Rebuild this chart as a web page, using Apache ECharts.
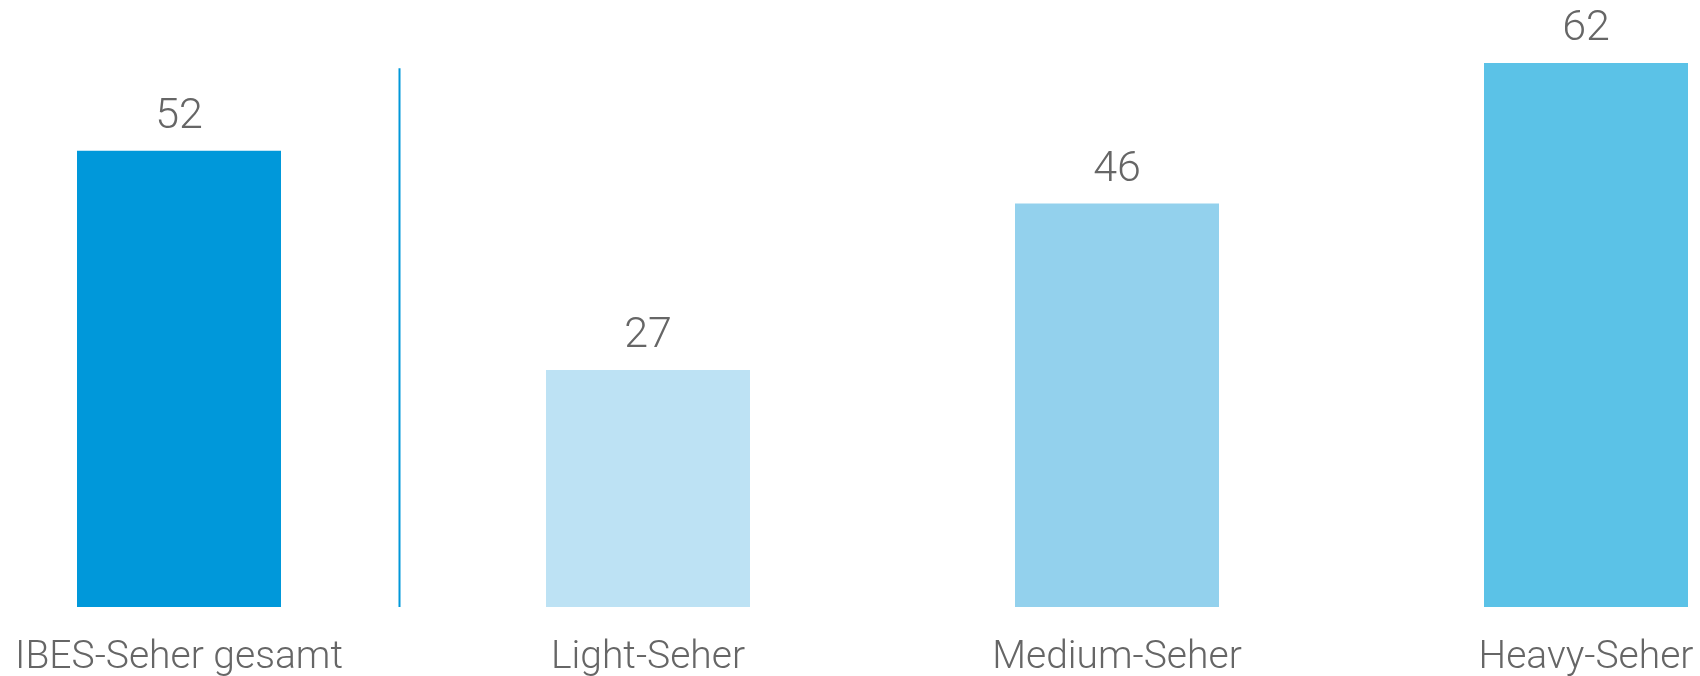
<!DOCTYPE html>
<html>
<head>
<meta charset="utf-8">
<script src="https://cdn.jsdelivr.net/npm/echarts@6/dist/echarts.min.js"></script>
<style>html,body{margin:0;padding:0;background:#fff}#c{width:1700px;height:676px}</style>
</head>
<body>
<div id="c"></div>
<script>
const categories = ['IBES-Seher gesamt', 'Light-Seher', 'Medium-Seher', 'Heavy-Seher'];
const values = [52, 27, 46, 62];
const colors = ['#0098da', '#bde2f4', '#93d1ed', '#5bc2e7'];

const chart = echarts.init(document.getElementById('c'));
const FONT = 'Roboto';
chart.setOption({
  animation: false,
  grid: { left: 179, top: 63, width: 1407, height: 544, containLabel: false, outerBoundsMode: 'none' },
  xAxis: {
    type: 'category', data: categories, boundaryGap: false,
    axisLine: { show: false }, axisTick: { show: false },
    axisLabel: { color: '#666', fontSize: 39, fontFamily: FONT, fontWeight: 300, margin: 32 }
  },
  yAxis: { type: 'value', min: 0, max: 62, show: false, splitLine: { show: false } },
  series: [{
    type: 'bar', barWidth: 204, clip: false,
    data: values.map((v, i) => ({ value: v, itemStyle: { color: colors[i] } })),
    label: { show: true, position: 'top', distance: 12, color: '#666', fontSize: 43, fontFamily: FONT, fontWeight: 300 }
  }]
});
const x0 = chart.convertToPixel({ xAxisIndex: 0 }, 0);
const yTop = chart.convertToPixel({ yAxisIndex: 0 }, 61.4);
const yBot = chart.convertToPixel({ yAxisIndex: 0 }, 0);
chart.setOption({
  graphic: [{ type: 'line', shape: { x1: x0 + 220.5, y1: yTop, x2: x0 + 220.5, y2: yBot }, style: { stroke: '#0098da', lineWidth: 2 } }]
});
</script>
</body>
</html>
